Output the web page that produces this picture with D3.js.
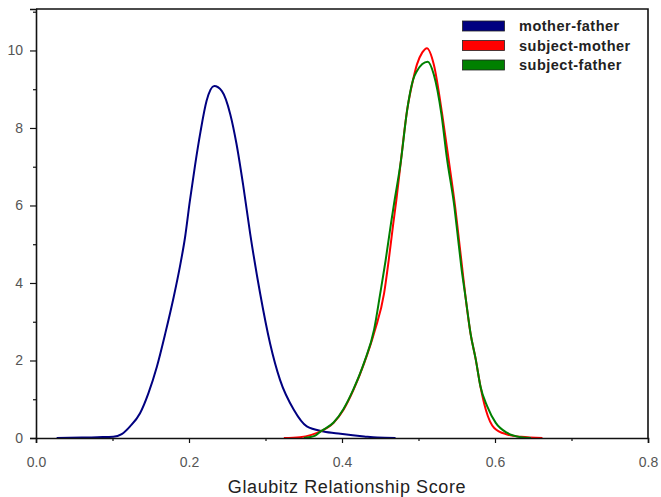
<!DOCTYPE html>
<html>
<head>
<meta charset="utf-8">
<script src="https://cdn.jsdelivr.net/npm/d3@7"></script>
<style>
  html, body { margin: 0; padding: 0; background: #fff; }
  svg { display: block; }
</style>
</head>
<body>
<svg id="chart" width="661" height="497"></svg>
<script>
// ---- data ----
const seriesNames = ["mother-father", "subject-mother", "subject-father"];
const seriesColors = ["#000080", "#ff0000", "#008000"];

const mfX = [0.027, 0.060, 0.080, 0.101, 0.112, 0.123, 0.136, 0.147, 0.158, 0.169, 0.180, 0.188, 0.195, 0.201, 0.208, 0.215, 0.223, 0.233, 0.243, 0.254, 0.262, 0.271, 0.280, 0.293, 0.306, 0.319, 0.337, 0.354, 0.376, 0.398, 0.429, 0.446, 0.470];
const mfY = [0.00, 0.01, 0.02, 0.03, 0.10, 0.30, 0.64, 1.16, 1.84, 2.70, 3.64, 4.41, 5.20, 6.10, 7.05, 7.90, 8.70, 9.08, 8.95, 8.35, 7.60, 6.50, 5.27, 3.73, 2.44, 1.50, 0.73, 0.30, 0.17, 0.11, 0.04, 0.01, 0.00];

const smX = [0.324, 0.345, 0.360, 0.372, 0.389, 0.402, 0.415, 0.429, 0.443, 0.455, 0.461, 0.467, 0.471, 0.477, 0.485, 0.493, 0.498, 0.505, 0.511, 0.520, 0.531, 0.539, 0.548, 0.552, 0.557, 0.562, 0.568, 0.575, 0.581, 0.588, 0.599, 0.616, 0.634, 0.662];
const smY = [0.00, 0.02, 0.08, 0.17, 0.39, 0.73, 1.24, 1.93, 2.78, 3.73, 4.58, 5.53, 6.13, 7.15, 8.44, 9.25, 9.64, 9.95, 10.06, 9.64, 8.35, 7.24, 5.95, 5.27, 4.41, 3.56, 2.70, 2.01, 1.33, 0.73, 0.26, 0.09, 0.03, 0.00];

const sfX = [0.350, 0.365, 0.372, 0.389, 0.402, 0.415, 0.429, 0.442, 0.450, 0.457, 0.464, 0.468, 0.477, 0.485, 0.493, 0.498, 0.505, 0.512, 0.520, 0.530, 0.537, 0.547, 0.551, 0.556, 0.562, 0.568, 0.575, 0.581, 0.590, 0.601, 0.616, 0.634, 0.647];
const sfY = [0.00, 0.06, 0.17, 0.40, 0.75, 1.26, 1.95, 2.80, 3.73, 4.58, 5.53, 6.04, 7.15, 8.44, 9.25, 9.47, 9.65, 9.71, 9.38, 8.35, 7.24, 5.95, 5.27, 4.41, 3.56, 2.70, 2.01, 1.33, 0.81, 0.39, 0.13, 0.02, 0.00];

const xTicks = [0, 0.2, 0.4, 0.6, 0.8];
const xMinorTicks = [0.1, 0.3, 0.5, 0.7];
const yTicks = [0, 2, 4, 6, 8, 10];
const yMinorTicks = [1, 3, 5, 7, 9, 11];
const xTitle = "Glaubitz Relationship Score";

// ---- layout ----
const svg = d3.select("#chart");
const pL = 36, pR = 648, pT = 9, pB = 438;

const x = d3.scaleLinear().domain([0, 0.8]).range([pL, pR]);
const y = d3.scaleLinear().domain([0, 11.07]).range([pB, pT]);

const series = [
  { name: seriesNames[0], color: seriesColors[0], xs: mfX, ys: mfY },
  { name: seriesNames[1], color: seriesColors[1], xs: smX, ys: smY },
  { name: seriesNames[2], color: seriesColors[2], xs: sfX, ys: sfY }
];

const line = d3.line()
  .x(d => x(d[0]))
  .y(d => y(d[1]))
  .curve(d3.curveMonotoneX);

svg.append("g")
  .selectAll("path")
  .data(series)
  .join("path")
  .attr("d", s => line(s.xs.map((v, i) => [v, s.ys[i]])))
  .attr("fill", "none")
  .attr("stroke", s => s.color)
  .attr("stroke-width", 2)
  .attr("stroke-linejoin", "round");

// frame (top & right)
svg.append("path")
  .attr("d", `M${pL},${pT}H${pR}V${pB}`)
  .attr("fill", "none")
  .attr("stroke", "#111")
  .attr("stroke-width", 1.6);

// x axis
const xAxis = d3.axisBottom(x).tickValues(xTicks).tickFormat(d3.format(".1f")).tickSize(5).tickPadding(14);
const gx = svg.append("g").attr("transform", `translate(0,${pB})`).call(xAxis);
gx.select(".domain").attr("stroke", "#111").attr("stroke-width", 1.6);
gx.selectAll(".tick line").attr("stroke", "#111").attr("stroke-width", 1.2);
gx.selectAll(".tick text").attr("fill", "#555").attr("font-size", 14).attr("font-family", "Liberation Sans, Arial, sans-serif");
const gxm = svg.append("g").attr("transform", `translate(0,${pB})`)
  .call(d3.axisBottom(x).tickValues(xMinorTicks).tickSize(3).tickFormat(""));
gxm.select(".domain").remove();
gxm.selectAll(".tick line").attr("stroke", "#111").attr("stroke-width", 1.2);

// y axis
const yAxis = d3.axisLeft(y).tickValues(yTicks).tickFormat(d3.format("d")).tickSize(6).tickPadding(7);
const gy = svg.append("g").attr("transform", `translate(${pL},0)`).call(yAxis);
gy.select(".domain").attr("stroke", "#111").attr("stroke-width", 1.6);
gy.selectAll(".tick line").attr("stroke", "#111").attr("stroke-width", 1.2);
gy.selectAll(".tick text").attr("fill", "#555").attr("font-size", 14).attr("font-family", "Liberation Sans, Arial, sans-serif");
const gym = svg.append("g").attr("transform", `translate(${pL},0)`)
  .call(d3.axisLeft(y).tickValues(yMinorTicks).tickSize(3).tickFormat(""));
gym.select(".domain").remove();
gym.selectAll(".tick line").attr("stroke", "#111").attr("stroke-width", 1.2);

// x title
svg.append("text")
  .attr("x", (pL + pR) / 2 + 5)
  .attr("y", 493)
  .attr("text-anchor", "middle")
  .attr("font-family", "Liberation Sans, Arial, sans-serif")
  .attr("font-size", 18)
  .attr("letter-spacing", 0.6)
  .attr("fill", "#222")
  .text(xTitle);

// legend
const lg = svg.append("g");
series.forEach((s, i) => {
  const cy = 26 + i * 19.5;
  lg.append("rect")
    .attr("x", 462.5).attr("y", cy - 5)
    .attr("width", 42).attr("height", 10)
    .attr("fill", s.color)
    .attr("stroke", "#222").attr("stroke-width", 0.8);
  lg.append("text")
    .attr("x", 519).attr("y", cy + 5)
    .attr("font-family", "Liberation Sans, Arial, sans-serif")
    .attr("font-size", 14.5)
    .attr("letter-spacing", 0.5)
    .attr("font-weight", "bold")
    .attr("fill", "#222")
    .text(s.name);
});
</script>
</body>
</html>
